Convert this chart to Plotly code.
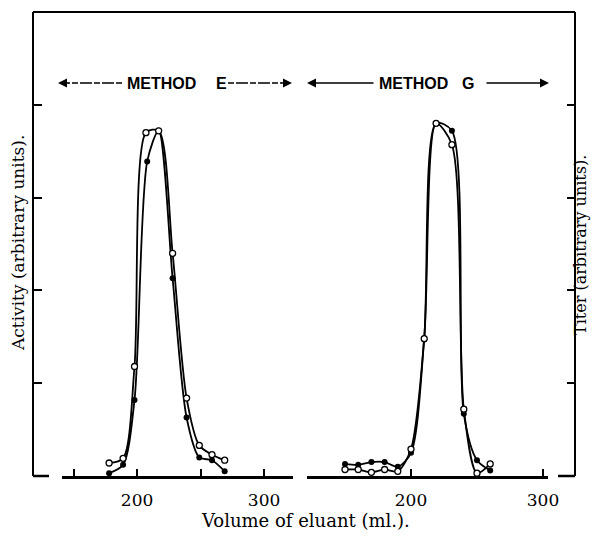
import plotly.graph_objects as go

# ---------------- data ----------------
# Method E (left panel)
e_open_x = [178, 189, 198, 207, 217, 228, 239, 249, 259, 269]
e_open_y = [0.14, 0.19, 1.18, 3.70, 3.72, 2.40, 0.84, 0.33, 0.23, 0.17]
e_fill_x = [178, 189, 198, 208, 217, 228, 239, 249, 259, 269]
e_fill_y = [0.03, 0.12, 0.82, 3.39, 3.72, 2.13, 0.63, 0.20, 0.17, 0.05]

# Method G (right panel)
g_open_x = [150, 160, 170, 180, 190, 200, 210, 219, 231, 240, 250, 260]
g_open_y = [0.07, 0.07, 0.04, 0.07, 0.05, 0.29, 1.48, 3.80, 3.57, 0.72, 0.03, 0.13]
g_fill_x = [150, 160, 170, 180, 190, 200, 210, 219, 231, 240, 250, 260]
g_fill_y = [0.13, 0.12, 0.15, 0.15, 0.10, 0.25, 1.48, 3.80, 3.72, 0.67, 0.17, 0.06]

left_ticks = [150, 200, 250, 300]
left_ticktext = ["", "200", "", "300"]
right_ticks = [200, 300]
right_ticktext = ["200", "300"]
y_ticks = [1, 2, 3, 4]

# ---------------- layout geometry (screenshot pixels) ----------------
PAGE_OFF = 8               # default body margin of the html page
W, H = 599 - 2 * PAGE_OFF, 540 - 2 * PAGE_OFF
PL, PT, PR, PB = 33, 12, 575, 476   # plot area in screenshot pixels
PW, PH = PR - PL, PB - PT
ML = PL - PAGE_OFF
MT = PT - PAGE_OFF
MR = W - ML - PW
MB = H - MT - PH


def px(xp):
    return (xp - PL) / PW


def py(yp):
    return (PB - yp) / PH


fig = go.Figure()

line_style = dict(color="black", width=1.8, shape="spline", smoothing=0.8)

fig.add_trace(go.Scatter(x=e_fill_x, y=e_fill_y, mode="lines+markers", line=line_style,
                         marker=dict(symbol="circle", size=6, color="black"),
                         xaxis="x", yaxis="y", cliponaxis=False))
fig.add_trace(go.Scatter(x=e_open_x, y=e_open_y, mode="lines+markers", line=line_style,
                         marker=dict(symbol="circle", size=6, color="white",
                                     line=dict(color="black", width=1.3)),
                         xaxis="x", yaxis="y", cliponaxis=False))
fig.add_trace(go.Scatter(x=g_fill_x, y=g_fill_y, mode="lines+markers", line=line_style,
                         marker=dict(symbol="circle", size=6, color="black"),
                         xaxis="x2", yaxis="y2", cliponaxis=False))
fig.add_trace(go.Scatter(x=g_open_x, y=g_open_y, mode="lines+markers", line=line_style,
                         marker=dict(symbol="circle", size=6, color="white",
                                     line=dict(color="black", width=1.3)),
                         xaxis="x2", yaxis="y2", cliponaxis=False))

tickfont = dict(family="DejaVu Serif", size=17, color="black")

fig.update_layout(
    width=W, height=H,
    margin=dict(l=ML, r=MR, t=MT, b=MB, autoexpand=False),
    paper_bgcolor="white", plot_bgcolor="white",
    showlegend=False,
    xaxis=dict(domain=[px(62), px(293)], range=[140.9, 322.8],
               showline=True, linecolor="black", linewidth=2.5,
               ticks="inside", ticklen=7, tickwidth=1.5, tickcolor="black",
               tickvals=left_ticks, ticktext=left_ticktext,
               showgrid=False, zeroline=False, tickfont=tickfont,
               ticklabelstandoff=7, anchor="y", automargin=False),
    xaxis2=dict(domain=[px(307), px(548)], range=[121.2, 303.8],
                showline=True, linecolor="black", linewidth=2.5,
                ticks="inside", ticklen=7, tickwidth=1.5, tickcolor="black",
                tickvals=right_ticks, ticktext=right_ticktext,
                showgrid=False, zeroline=False, tickfont=tickfont,
                ticklabelstandoff=7, anchor="y2", automargin=False),
    yaxis=dict(domain=[0, 1], range=[0, 5], anchor="free", position=0,
               showline=True, linecolor="black", linewidth=2.2,
               ticks="inside", ticklen=8, tickwidth=1.5, tickcolor="black",
               tickvals=y_ticks, showticklabels=False,
               showgrid=False, zeroline=False, automargin=False),
    yaxis2=dict(domain=[0, 1], range=[0, 5], anchor="free", position=1, side="right",
                showline=True, linecolor="black", linewidth=2.2,
                ticks="inside", ticklen=7, tickwidth=1.5, tickcolor="black",
                tickvals=y_ticks, showticklabels=False,
                showgrid=False, zeroline=False, automargin=False),
)

# frame pieces
fig.add_shape(type="line", xref="paper", yref="paper", x0=0, x1=1, y0=1, y1=1,
              line=dict(color="black", width=2.2))
fig.add_shape(type="line", xref="paper", yref="paper", x0=0, x1=px(49), y0=0, y1=0,
              line=dict(color="black", width=2.5))
fig.add_shape(type="line", xref="paper", yref="paper", x0=px(558), x1=1, y0=0, y1=0,
              line=dict(color="black", width=2.5))

# method labels
mfont = dict(family="Liberation Sans", size=16, color="black")
yl = py(83)
labels = [(161, "METHOD"), (221, "E"), (413.5, "METHOD"), (467.5, "G")]
for xc, txt in labels:
    fig.add_annotation(x=px(xc), y=yl, xref="paper", yref="paper", text="<b>%s</b>" % txt,
                       showarrow=False, font=mfont, xanchor="center", yanchor="middle")

# arrows: (head, tail, dashed)
arrows = [(58, 122, True), (292, 228, True), (307, 375, False), (549, 485, False)]
for head, tail, dashed in arrows:
    if dashed:
        step = 10 if tail > head else -10
        fig.add_shape(type="line", xref="paper", yref="paper",
                      x0=px(tail), x1=px(head + step), y0=yl, y1=yl,
                      line=dict(color="black", width=1.6, dash="6px,2px,12px,2px"))
        fig.add_annotation(x=px(head), y=yl, xref="paper", yref="paper", text="",
                           showarrow=True, ax=step + (2 if step > 0 else -2), ay=0,
                           axref="pixel", ayref="pixel",
                           arrowhead=2, arrowsize=1.2, arrowwidth=1.5, arrowcolor="black",
                           standoff=0, startstandoff=0)
    else:
        fig.add_annotation(x=px(head), y=yl, xref="paper", yref="paper", text="",
                           showarrow=True, ax=tail - head, ay=0, axref="pixel", ayref="pixel",
                           arrowhead=2, arrowsize=1.2, arrowwidth=1.5, arrowcolor="black",
                           standoff=0, startstandoff=0)

# axis titles
tfont = dict(family="DejaVu Serif", size=17, color="black")
fig.add_annotation(x=px(18), y=py(243), xref="paper", yref="paper",
                   text="Activity (arbitrary units).", textangle=-90,
                   showarrow=False, font=tfont, xanchor="center", yanchor="middle")
fig.add_annotation(x=px(580), y=py(245), xref="paper", yref="paper",
                   text="Titer (arbitrary units).", textangle=-90,
                   showarrow=False, font=dict(family="DejaVu Serif", size=16, color="black"),
                   xanchor="center", yanchor="middle")
fig.add_annotation(x=px(305), y=py(520.5), xref="paper", yref="paper",
                   text="Volume of eluant (ml.).", showarrow=False,
                   font=dict(family="DejaVu Serif", size=18, color="black"),
                   xanchor="center", yanchor="middle", borderpad=0)

fig.write_html("out.html")
